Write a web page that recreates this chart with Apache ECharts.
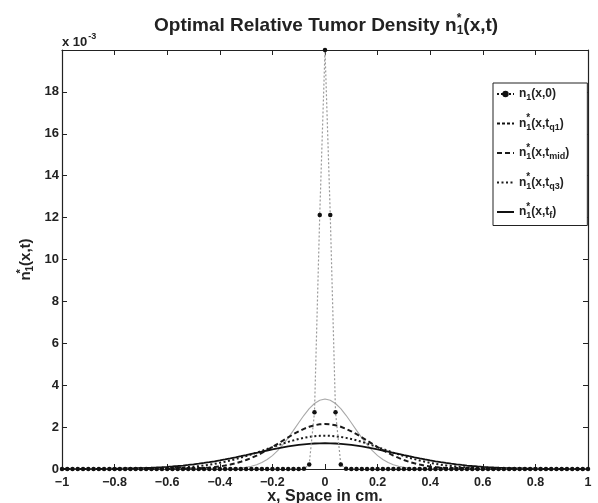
<!DOCTYPE html>
<html>
<head>
<meta charset="utf-8">
<script src="https://cdn.jsdelivr.net/npm/echarts@6/dist/echarts.min.js"></script>
<style>html,body{margin:0;padding:0;background:#fff;}#c{width:598px;height:503px;}</style>
</head>
<body>
<div id="c"></div>
<script>
// x positions (cm)
const xs = [
-1,-0.98,-0.96,-0.94,-0.92,-0.9,-0.88,-0.86,-0.84,-0.82,
-0.8,-0.78,-0.76,-0.74,-0.72,-0.7,-0.68,-0.66,-0.64,-0.62,
-0.6,-0.58,-0.56,-0.54,-0.52,-0.5,-0.48,-0.46,-0.44,-0.42,
-0.4,-0.38,-0.36,-0.34,-0.32,-0.3,-0.28,-0.26,-0.24,-0.22,
-0.2,-0.18,-0.16,-0.14,-0.12,-0.1,-0.08,-0.06,-0.04,-0.02,
0,
0.02,0.04,0.06,0.08,0.1,0.12,0.14,0.16,0.18,0.2,
0.22,0.24,0.26,0.28,0.3,0.32,0.34,0.36,0.38,0.4,
0.42,0.44,0.46,0.48,0.5,0.52,0.54,0.56,0.58,0.6,
0.62,0.64,0.66,0.68,0.7,0.72,0.74,0.76,0.78,0.8,
0.82,0.84,0.86,0.88,0.9,0.92,0.94,0.96,0.98,1
];
// densities in units of 1e-3
const nInit = [
0,0,0,0,0,0,0,0,0,0,
0,0,0,0,0,0,0,0,0,0,
0,0,0,0,0,0,0,0,0,0,
0,0,0,0,0,0,0,0,0,0,
0,0,0,0,0,0,0.01,0.22,2.71,12.13,
20.0,
12.13,2.71,0.22,0.01,0,0,0,0,0,0,
0,0,0,0,0,0,0,0,0,0,
0,0,0,0,0,0,0,0,0,0,
0,0,0,0,0,0,0,0,0,0,
0,0,0,0,0,0,0,0,0,0
];
const nQ1 = [
0,0,0,0,0,0,0,0,0,0,
0,0,0,0,0,0,0,0,0,0,
0,0,0,0,0,0,0,0,0,
0.002,0.004,0.009,0.016,0.028,0.049,0.081,0.131,0.205,0.309,0.452,0.640,0.876,1.160,1.486,1.842,2.209,2.564,2.878,3.126,3.285,
3.34,
3.285,3.126,2.878,2.564,2.209,1.842,1.486,1.160,0.876,0.640,0.452,0.309,0.205,0.131,0.081,0.049,0.028,0.016,0.009,0.004,0.002,
0,0,0,0,0,0,0,0,0,0,
0,0,0,0,0,0,0,0,0,0,
0,0,0,0,0,0,0,0,0
];
const nMid = [
0,0,0,0,0,0,0,0,0,0,
0,0,0,0,0,0,0,0,
0.001,0.002,0.003,0.005,0.008,0.012,0.017,0.024,0.035,0.048,0.067,0.091,0.122,0.162,0.211,0.271,0.343,0.428,0.528,0.640,0.766,0.903,1.050,1.203,1.359,1.513,1.661,1.797,1.917,2.016,2.089,2.135,
2.15,
2.135,2.089,2.016,1.917,1.797,1.661,1.513,1.359,1.203,1.050,0.903,0.766,0.640,0.528,0.428,0.343,0.271,0.211,0.162,0.122,0.091,0.067,0.048,0.035,0.024,0.017,0.012,0.008,0.005,0.003,0.002,0.001,
0,0,0,0,0,0,0,0,0,0,
0,0,0,0,0,0,0,0
];
const nQ3 = [
0,0,0,0,0,0,0,0,0,0,
0.002,0.003,0.004,0.005,0.007,0.009,0.012,0.016,0.021,0.028,0.036,0.046,0.059,0.074,0.092,0.114,0.141,0.171,0.207,0.248,0.295,0.348,0.406,0.471,0.541,0.616,0.697,0.781,0.867,0.955,1.044,1.130,1.214,1.294,1.366,1.431,1.486,1.531,1.563,1.583,
1.59,
1.583,1.563,1.531,1.486,1.431,1.366,1.294,1.214,1.130,1.044,0.955,0.867,0.781,0.697,0.616,0.541,0.471,0.406,0.348,0.295,0.248,0.207,0.171,0.141,0.114,0.092,0.074,0.059,0.046,0.036,0.028,0.021,0.016,0.012,0.009,0.007,0.005,0.004,0.003,0.002,
0,0,0,0,0,0,0,0,0,0
];
const nFinal = [
0.001,0.002,0.002,0.003,0.004,0.005,0.006,0.008,0.010,0.012,0.015,0.019,0.023,0.029,0.035,0.043,0.052,0.062,0.074,0.088,0.104,0.122,0.143,0.166,0.193,0.221,0.253,0.288,0.326,0.367,0.410,0.457,0.506,0.557,0.609,0.663,0.718,0.774,0.829,0.883,0.935,0.985,1.032,1.075,1.114,1.148,1.177,1.200,1.217,1.227,
1.23,
1.227,1.217,1.200,1.177,1.148,1.114,1.075,1.032,0.985,0.935,0.883,0.829,0.774,0.718,0.663,0.609,0.557,0.506,0.457,0.410,0.367,0.326,0.288,0.253,0.221,0.193,0.166,0.143,0.122,0.104,0.088,0.074,0.062,0.052,0.043,0.035,0.029,0.023,0.019,0.015,0.012,0.010,0.008,0.006,0.005,0.004,0.003,0.002,0.002,0.001
];
const seriesNames = ['n1(x,0)', 'n1*(x,tq1)', 'n1*(x,tmid)', 'n1*(x,tq3)', 'n1*(x,tf)'];
const legendRich = {
  'n1(x,0)': '{a|n}{sb|1}{a|(x,0)}',
  'n1*(x,tq1)': '{a|n}{st|*}{sb|1}{a|(x,t}{sb|q1}{a|)}',
  'n1*(x,tmid)': '{a|n}{st|*}{sb|1}{a|(x,t}{sb|mid}{a|)}',
  'n1*(x,tq3)': '{a|n}{st|*}{sb|1}{a|(x,t}{sb|q3}{a|)}',
  'n1*(x,tf)': '{a|n}{st|*}{sb|1}{a|(x,t}{sb|f}{a|)}'
};

const F = '"Liberation Sans", Arial, sans-serif';
const C = '#222';
const pairs = arr => xs.map((x, i) => [x, arr[i]]);

const chart = echarts.init(document.getElementById('c'), null, {renderer: 'canvas'});
const axisCommon = {
  axisLine: {show: true, onZero: false, lineStyle: {color: C, width: 1.2}},
  axisTick: {show: true, inside: true, length: 5, lineStyle: {color: C}},
  splitLine: {show: false}
};
const hideSym = {opacity: 0};
chart.setOption({
  animation: false,
  backgroundColor: '#fff',
  title: {
    text: '{a|Optimal Relative Tumor Density n}{st|*}{sb|1}{a|(x,t)}',
    left: 149, top: 8,
    textStyle: {
      rich: {
        a: {fontSize: 19, fontWeight: 'bold', fontFamily: F, color: C},
        st: {fontSize: 12, fontWeight: 'bold', fontFamily: F, color: C, width: 0, padding: [0, 0, 13, 0]},
        sb: {fontSize: 12, fontWeight: 'bold', fontFamily: F, color: C, padding: [11, 0, 0, 0]}
      }
    }
  },
  graphic: [{
    type: 'text', left: 62, top: 32,
    style: {
      text: '{a|x 10}{s|-3}',
      rich: {
        a: {fontSize: 13, fontWeight: 'bold', fontFamily: F, fill: C, padding: [6, 0, 0, 0]},
        s: {fontSize: 9, fontWeight: 'bold', fontFamily: F, fill: C, padding: [0, 0, 6, 1]}
      }
    }
  }],
  grid: {left: 62, right: 10, top: 50, bottom: 34, containLabel: false, outerBoundsMode: 'none'},
  legend: {
    orient: 'vertical', left: 493, top: 83,
    backgroundColor: '#fff', borderColor: C, borderWidth: 1,
    padding: [5, 18, 5, 3],
    itemWidth: 17, itemHeight: 8, itemGap: 11,
    data: [
      {name: seriesNames[0], lineStyle: {color: '#111'}},
      {name: seriesNames[1], lineStyle: {color: '#111', type: [3, 2]}, itemStyle: hideSym},
      {name: seriesNames[2], itemStyle: hideSym},
      {name: seriesNames[3], itemStyle: hideSym},
      {name: seriesNames[4], itemStyle: hideSym}
    ],
    formatter: name => legendRich[name],
    textStyle: {
      rich: {
        a: {fontSize: 12, fontWeight: 'bold', fontFamily: F, color: C},
        st: {fontSize: 10, fontWeight: 'bold', fontFamily: F, color: C, width: 0, padding: [0, 0, 10, 0]},
        sb: {fontSize: 9, fontWeight: 'bold', fontFamily: F, color: C, padding: [8, 0, 0, 0]}
      }
    }
  },
  xAxis: [
    Object.assign({
      type: 'value', min: -1, max: 1, interval: 0.2, position: 'bottom',
      name: 'x, Space in cm.', nameLocation: 'middle', nameGap: 20, nameMoveOverlap: false,
      nameTextStyle: {fontSize: 16, fontWeight: 'bold', fontFamily: F, color: C},
      axisLabel: {
        margin: 7, fontSize: 12.5, fontWeight: 'bold', fontFamily: F, color: C,
        formatter: v => String(Math.round(v * 10) / 10).replace('-', '\u2212')
      }
    }, axisCommon),
    Object.assign({
      type: 'value', min: -1, max: 1, interval: 0.2, position: 'top',
      axisLabel: {show: false}
    }, axisCommon)
  ],
  yAxis: [
    Object.assign({
      type: 'value', min: 0, max: 20, interval: 2, position: 'left',
      name: '{a|n}{st|*}{sb|1}{a|(x,t)}', nameLocation: 'middle', nameGap: 25, nameRotate: 90,
      nameMoveOverlap: false,
      nameTextStyle: {
        rich: {
          a: {fontSize: 15, fontWeight: 'bold', fontFamily: F, color: C},
          st: {fontSize: 11, fontWeight: 'bold', fontFamily: F, color: C, width: 0, padding: [0, 0, 11, 0]},
          sb: {fontSize: 10, fontWeight: 'bold', fontFamily: F, color: C, padding: [9, 0, 0, 0]}
        }
      },
      axisLabel: {
        margin: 3, fontSize: 13, fontWeight: 'bold', fontFamily: F, color: C,
        formatter: v => (v >= 20 ? '' : String(v))
      }
    }, axisCommon),
    Object.assign({
      type: 'value', min: 0, max: 20, interval: 2, position: 'right',
      axisLabel: {show: false}
    }, axisCommon)
  ],
  series: [
    {
      name: seriesNames[0], type: 'line', data: pairs(nInit),
      symbol: 'circle', symbolSize: 4.5, showSymbol: true,
      itemStyle: {color: '#111'},
      lineStyle: {color: '#9a9a9a', width: 1.2, type: [2, 2]}, z: 5
    },
    {
      name: seriesNames[1], type: 'line', data: pairs(nQ1), symbol: 'none',
      itemStyle: {color: '#111'},
      lineStyle: {color: '#a8a8a8', width: 1.1, type: 'solid'}, z: 2
    },
    {
      name: seriesNames[2], type: 'line', data: pairs(nMid), symbol: 'none',
      itemStyle: {color: '#111'},
      lineStyle: {color: '#1a1a1a', width: 2, type: [5, 3]}, z: 3
    },
    {
      name: seriesNames[3], type: 'line', data: pairs(nQ3), symbol: 'none',
      itemStyle: {color: '#111'},
      lineStyle: {color: '#1a1a1a', width: 2, type: [2, 2.5]}, z: 3
    },
    {
      name: seriesNames[4], type: 'line', data: pairs(nFinal), symbol: 'none',
      itemStyle: {color: '#111'},
      lineStyle: {color: '#111', width: 1.8, type: 'solid'}, z: 4
    }
  ]
});
</script>
</body>
</html>
